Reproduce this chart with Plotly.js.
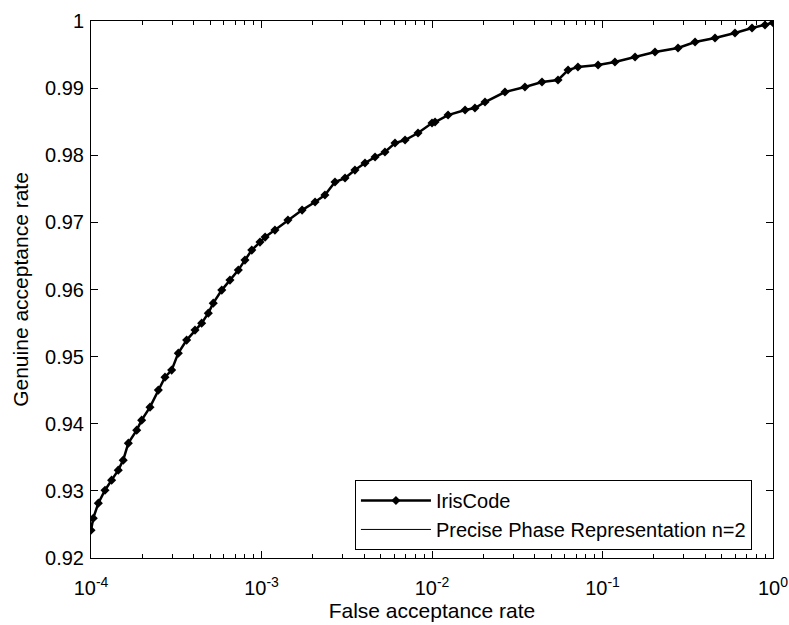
<!DOCTYPE html>
<html>
<head>
<meta charset="utf-8">
<script src="https://cdn.plot.ly/plotly-3.0.1.min.js"></script>
<style>
html,body{margin:0;padding:0;background:#fff;}
#chart{width:789px;height:625px;}
</style>
</head>
<body>
<div id="chart"></div>
<script>
// False acceptance rate (x, log scale)
var far = [1.000e-4,1.031e-4,1.104e-4,1.208e-4,1.321e-4,1.445e-4,1.545e-4,1.656e-4,1.854e-4,1.982e-4,
  2.218e-4,2.483e-4,2.716e-4,2.972e-4,3.251e-4,3.639e-4,4.074e-4,4.457e-4,4.875e-4,5.212e-4,
  5.848e-4,6.531e-4,7.311e-4,7.998e-4,8.770e-4,9.795e-4,1.050e-3,1.199e-3,1.429e-3,1.730e-3,
  2.061e-3,2.355e-3,2.698e-3,3.090e-3,3.532e-3,4.046e-3,4.634e-3,5.297e-3,6.067e-3,6.950e-3,
  8.279e-3,1.000e-2,1.042e-2,1.242e-2,1.563e-2,1.786e-2,2.046e-2,2.679e-2,3.508e-2,4.416e-2,
  5.483e-2,6.281e-2,7.178e-2,9.419e-2,0.1183,0.1552,0.2032,0.2773,0.3491,0.4571,
  0.5984,0.7534,0.8974,1.0];
// Genuine acceptance rate, IrisCode
var garIris = [0.92414,0.92593,0.92817,0.93010,0.93160,0.93309,0.93458,0.93711,0.93905,0.94054,
  0.94247,0.94501,0.94694,0.94799,0.95052,0.95246,0.95395,0.95499,0.95648,0.95797,
  0.95991,0.96140,0.96289,0.96438,0.96587,0.96706,0.96781,0.96885,0.97034,0.97183,
  0.97303,0.97407,0.97601,0.97660,0.97779,0.97884,0.97973,0.98048,0.98182,0.98227,
  0.98331,0.98480,0.98495,0.98599,0.98674,0.98703,0.98793,0.98942,0.99016,0.99091,
  0.99121,0.99270,0.99314,0.99344,0.99389,0.99463,0.99538,0.99598,0.99687,0.99747,
  0.99821,0.99896,0.99940,0.99975];
// Genuine acceptance rate, Precise Phase Representation n=2 (coincides with IrisCode)
var garPPR = garIris.slice();

var seriesNames = ['IrisCode', 'Precise Phase Representation n=2'];
var xTickVals = [1e-4, 1e-3, 1e-2, 1e-1, 1];
var xTickText = ['10<sup>-4</sup>','10<sup>-3</sup>','10<sup>-2</sup>','10<sup>-1</sup>','10<sup>0</sup>'];
var yTickVals = [0.92,0.93,0.94,0.95,0.96,0.97,0.98,0.99,1.0];
var yTickText = ['0.92','0.93','0.94','0.95','0.96','0.97','0.98','0.99','1'];

var minorVals = [];
for (var d = -4; d < 0; d++) {
  for (var m = 2; m <= 9; m++) minorVals.push(m * Math.pow(10, d));
}

var FONT = 'Liberation Sans, Arial, sans-serif';
var TICK_SIZE = 20, LABEL_SIZE = 21;

var traces = [
  {x: far, y: garPPR, name: seriesNames[1], type: 'scatter', mode: 'lines',
   line: {color: '#000', width: 1}, legendrank: 2},
  {x: far, y: garIris, name: seriesNames[0], type: 'scatter', mode: 'lines+markers',
   line: {color: '#000', width: 2.5}, marker: {color: '#000', size: 7, symbol: 'diamond'}, legendrank: 1}
];

var axisCommon = {
  showgrid: false, zeroline: false, showline: true, linecolor: '#000', linewidth: 1,
  mirror: 'ticks', ticks: 'inside', ticklen: 7, tickcolor: '#000', tickwidth: 1,
  tickfont: {family: FONT, size: TICK_SIZE, color: '#000'}
};

var layout = {
  width: 789, height: 625,
  margin: {l: 91, r: 16, t: 21, b: 67},
  paper_bgcolor: '#fff', plot_bgcolor: '#fff',
  showlegend: true,
  font: {family: FONT, size: TICK_SIZE, color: '#000'},
  xaxis: Object.assign({}, axisCommon, {
    type: 'log', range: [-4, 0], tickmode: 'array', tickvals: xTickVals, ticktext: xTickText,
    ticklabelstandoff: 12,
    minor: {tickmode: 'array', tickvals: minorVals, ticks: 'inside', ticklen: 4, tickcolor: '#000', showgrid: false},
    title: {text: 'False acceptance rate', font: {family: FONT, size: LABEL_SIZE, color: '#000'}, standoff: 1}
  }),
  yaxis: Object.assign({}, axisCommon, {
    range: [0.92, 1.0], tickmode: 'array', tickvals: yTickVals, ticktext: yTickText,
    ticklabelstandoff: 2,
    title: {text: 'Genuine acceptance rate', font: {family: FONT, size: LABEL_SIZE, color: '#000'}, standoff: 10}
  }),
  legend: {
    x: 0.387, y: 0.015, xanchor: 'left', yanchor: 'bottom',
    bgcolor: '#fff', bordercolor: '#000', borderwidth: 1,
    font: {family: FONT, size: TICK_SIZE, color: '#000'},
    itemwidth: 70, tracegroupgap: 0, traceorder: 'normal'
  }
};

Plotly.newPlot('chart', traces, layout, {displayModeBar: false, staticPlot: true});
</script>
</body>
</html>
